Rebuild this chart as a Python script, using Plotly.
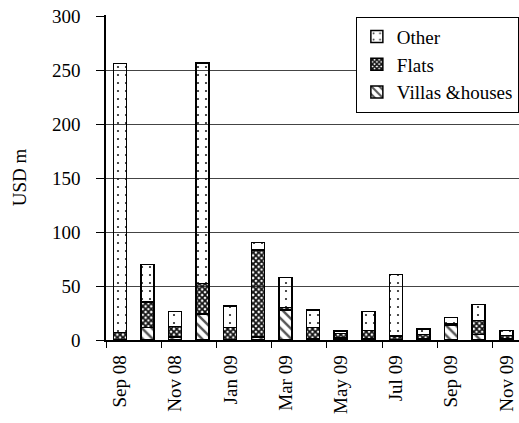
import plotly.graph_objects as go

months = ["Sep 08", "Oct 08", "Nov 08", "Dec 08", "Jan 09", "Feb 09", "Mar 09", "Apr 09",
          "May 09", "Jun 09", "Jul 09", "Aug 09", "Sep 09", "Oct 09", "Nov 09"]
villas = [0.5, 11.5, 3, 24, 0.5, 3, 28, 1, 2, 1, 0.5, 1, 14, 5, 1]
flats = [6.5, 23.5, 9.5, 28.5, 11, 80.5, 2, 10.7, 4, 7.6, 3.2, 4.3, 1.5, 13, 3]
other = [249, 35, 14, 204, 20, 7, 28, 16, 2.5, 17.6, 57, 5, 5.5, 15, 4.6]
tick_labels = ["Sep 08", "Nov 08", "Jan 09", "Mar 09", "May 09", "Jul 09", "Sep 09", "Nov 09"]

xpos = list(range(len(months)))
FONT = "Liberation Serif, Times New Roman, serif"

fig = go.Figure()
fig.add_trace(go.Bar(
    x=xpos, y=villas, name="Villas &houses",
    marker=dict(color="white", line=dict(color="black", width=1.5),
                pattern=dict(shape="\\", fgcolor="#555555", size=7, solidity=0.35, fillmode="replace")),
))
fig.add_trace(go.Bar(
    x=xpos, y=flats, name="Flats",
    marker=dict(color="white", line=dict(color="black", width=1.5),
                pattern=dict(shape="x", fgcolor="#111111", size=4, solidity=0.7, fillmode="replace")),
))
fig.add_trace(go.Bar(
    x=xpos, y=other, name="Other",
    marker=dict(color="white", line=dict(color="black", width=1.5),
                pattern=dict(shape=".", fgcolor="#222222", size=8, solidity=0.06, fillmode="replace")),
))

fig.update_layout(
    width=519, height=423,
    barmode="stack", bargap=0.53,
    plot_bgcolor="white", paper_bgcolor="white",
    margin=dict(l=106, r=0, t=15, b=83, autoexpand=False),
    font=dict(family=FONT, size=19, color="black"),
    showlegend=True,
    legend=dict(
        x=0.605, y=0.995, xanchor="left", yanchor="top",
        traceorder="reversed",
        bordercolor="black", borderwidth=1, bgcolor="white",
        font=dict(family=FONT, size=19),
        itemwidth=30,
    ),
    xaxis=dict(
        range=[-0.5, 14.46],
        tickmode="array",
        tickvals=[i - 0.5 for i in range(0, 15, 2)],
        ticktext=tick_labels,
        tickangle=-90,
        ticks="outside", ticklen=6, tickcolor="black",
        ticklabelshift=14,
        ticklabeloverflow="allow",
        showline=True, linecolor="black", linewidth=1.5,
        showgrid=False, zeroline=False,
        automargin=False,
        tickfont=dict(family=FONT, size=19),
    ),
    yaxis=dict(
        range=[0, 300.93],
        tickvals=[0, 50, 100, 150, 200, 250, 300],
        ticks="outside", ticklen=8, tickcolor="black",
        ticklabelstandoff=12,
        ticklabeloverflow="allow",
        showline=True, linecolor="black", linewidth=1.5,
        showgrid=True, gridcolor="#444444", gridwidth=1,
        zeroline=False,
        automargin=False,
        title=dict(text="USD m", font=dict(family=FONT, size=19), standoff=20),
        tickfont=dict(family=FONT, size=19),
    ),
)

# remove the page's default 8px body margin so the figure fills the window exactly
fig.write_html("out.html", config={"displayModeBar": False},
               post_script="document.body.style.margin='0';")
